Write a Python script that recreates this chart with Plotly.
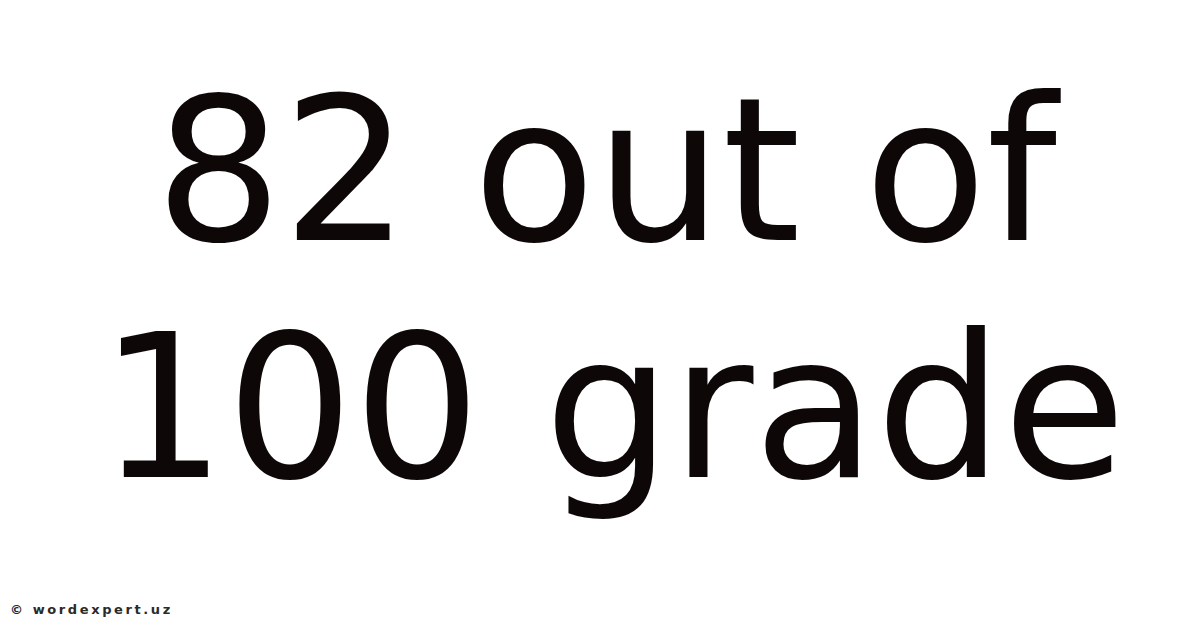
import plotly.graph_objects as go

# text content of the card
title_lines = ["82 out of", "100 grade"]
line_x = [0.5, 0.504]
line_y = [0.7405, 0.3646]
footer_text = "© wordexpert.uz"

text_color = "#0e0707"


def spaced(text: str, gap: str = "\u2009") -> str:
    # plotly has no letter-spacing, so widen with thin spaces
    return gap.join(text)


def main():
    fig = go.Figure()

    for line, x, y in zip(title_lines, line_x, line_y):
        fig.add_annotation(
            text=line,
            x=x,
            y=y,
            xref="paper",
            yref="paper",
            xanchor="center",
            yanchor="middle",
            showarrow=False,
            font=dict(family="DejaVu Sans", size=200, color=text_color),
        )

    fig.add_annotation(
        text=spaced(footer_text),
        x=0,
        y=1 - 601 / 628,
        xref="paper",
        yref="paper",
        xanchor="left",
        yanchor="middle",
        showarrow=False,
        font=dict(family="DejaVu Sans", size=13, color="#2a2a2a", weight="bold"),
    )

    fig.update_xaxes(visible=False)
    fig.update_yaxes(visible=False)
    fig.update_layout(
        width=1200,
        height=628,
        margin=dict(l=0, r=0, t=0, b=0),
        paper_bgcolor="white",
        plot_bgcolor="white",
        showlegend=False,
    )

    fig.write_html("out.html", config={"displayModeBar": False})


if __name__ == "__main__":
    main()
